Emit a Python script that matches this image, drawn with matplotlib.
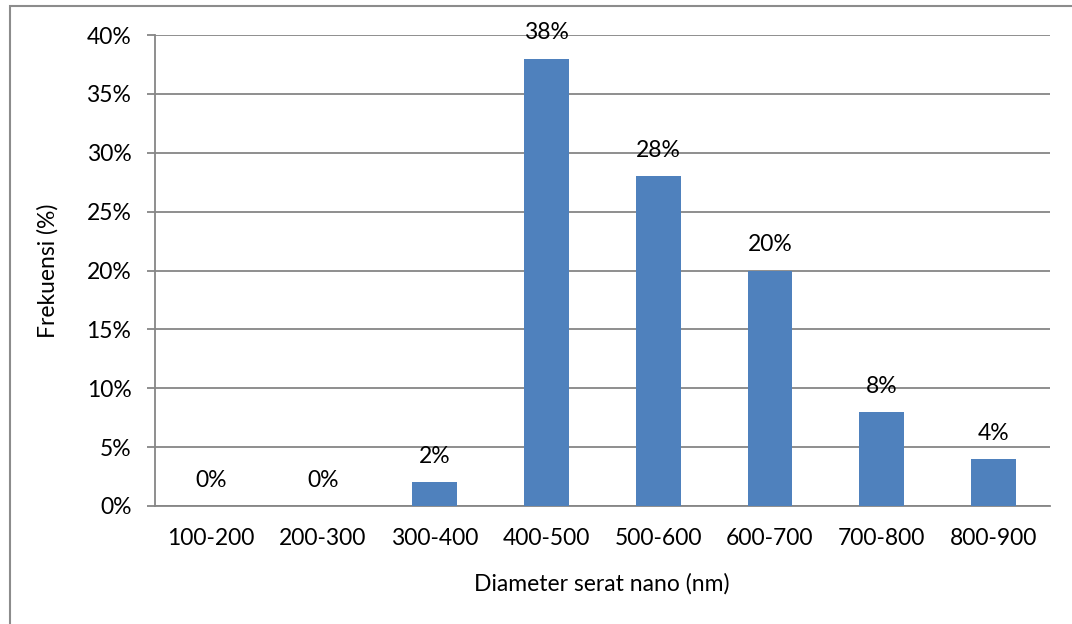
import matplotlib
matplotlib.use("Agg")
import matplotlib.pyplot as plt
from matplotlib.patches import Rectangle
from matplotlib.ticker import FuncFormatter

# diameter distribution of the nanofibres
kelas = ["100-200", "200-300", "300-400", "400-500", "500-600", "600-700", "700-800", "800-900"]
frekuensi = [0, 0, 2, 38, 28, 20, 8, 4]

plt.rcParams['font.family'] = ['Lato', 'DejaVu Sans']
plt.rcParams['font.size'] = 16.5

fig = plt.figure(figsize=(10.72, 6.24), dpi=100)
ax = fig.add_axes([155 / 1072, 1 - 506 / 624, (1049.5 - 155) / 1072, (506 - 35) / 624])

x = range(len(kelas))
bars = ax.bar(x, frekuensi, width=0.4, color="#4F81BD", zorder=3)

for xi, v in zip(x, frekuensi):
    ax.annotate(f"{v}%", (xi, v), xytext=(0, 18.5), textcoords="offset points",
                ha="center", va="center", color="black")

ax.set_xlim(-0.5, len(kelas) - 0.5)
ax.set_ylim(0, 40)
ax.set_yticks(range(0, 41, 5))
ax.yaxis.set_major_formatter(FuncFormatter(lambda v, p: f"{v:.0f}%"))
ax.set_xticks(list(x))
ax.set_xticklabels(kelas)

ax.grid(axis="y", color="#868686", linewidth=1.3, zorder=0)
for s in ["top", "right"]:
    ax.spines[s].set_visible(False)
ax.spines["left"].set_color("#868686")
ax.spines["bottom"].set_color("#868686")
ax.spines["left"].set_linewidth(1.3)
ax.spines["bottom"].set_linewidth(1.3)
ax.tick_params(axis="y", length=6, width=1.3, color="#868686", pad=11)
ax.tick_params(axis="x", length=0, pad=16)

ax.set_xlabel("Diameter serat nano (nm)", labelpad=17)
ax.set_ylabel("Frekuensi (%)", labelpad=20)

# chart frame
fig.patches.append(Rectangle((10 / 1072, -0.01), 1.0, 1 - 5.5 / 624 + 0.01,
                             transform=fig.transFigure, fill=False,
                             edgecolor="#8c8c8c", linewidth=1.5))

fig.savefig("out.png", dpi=100)
